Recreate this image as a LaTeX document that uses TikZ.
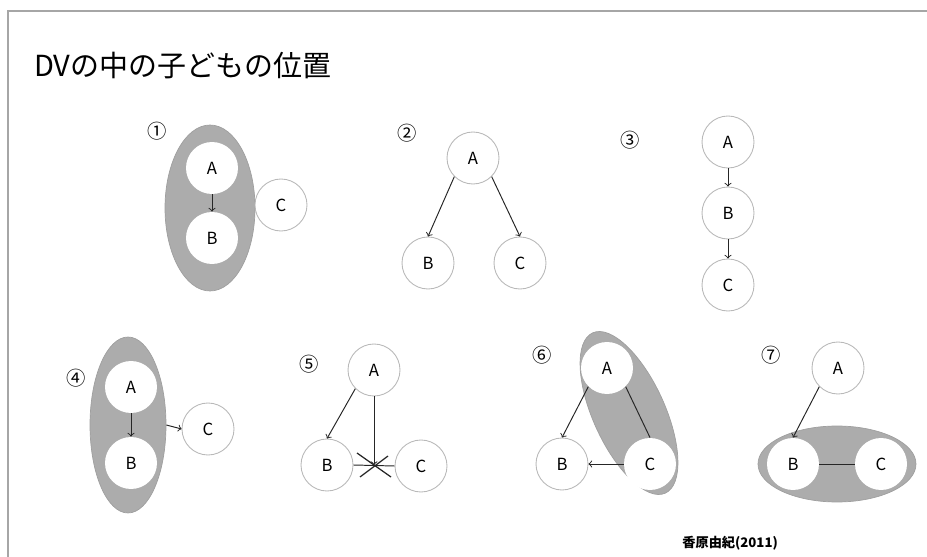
\documentclass[tikz,border=0pt]{standalone}
\usepackage{fontspec}
\setmainfont{Noto Sans CJK JP}
\usetikzlibrary{arrows,shapes.geometric}

\tikzset{
  pers/.style={circle,draw=gray!55,line width=0.5pt,fill=white,inner sep=0pt,
    minimum size=1.04cm,font=\fontsize{9.5}{10}\selectfont},
  inpers/.style={pers,draw=none},
  blob/.style={ellipse,fill=gray!65,draw=gray!75,line width=0.4pt,inner sep=0pt},
  numlab/.style={font=\fontsize{11}{11}\selectfont},
  link/.style={draw=black!85,line width=0.55pt},
  arr/.style={link,->,>=to}
}

\begin{document}
\begin{tikzpicture}[x=0.02cm,y=-0.02cm]
\useasboundingbox (0,0) rectangle (927,557);
\coordinate (fr1) at (8,557);
\coordinate (fr2) at (8,11);
\coordinate (fr3) at (927,11);
\draw[gray!70,line width=0.8pt] (fr1) -- (fr2) -- (fr3);
\node[anchor=west,font=\fontsize{16.5}{18}\selectfont] (title) at (28,66) {DVの中の子どもの位置};
\node[anchor=east,font=\fontsize{7.5}{9}\selectfont\bfseries] (auth) at (784,543) {香原由紀(2011)};

% 1
\node[numlab] (n1) at (157,131) {①};
\node[blob,minimum width=1.8cm,minimum height=3.32cm] (e1) at (210,208) {};
\node[inpers] (A1) at (212,168) {A};
\node[inpers] (B1) at (212,238) {B};
\node[pers] (C1) at (281,205) {C};
\draw[arr] (A1) -- (B1);

% 2
\node[numlab] (n2) at (407,133) {②};
\node[pers] (A2) at (473,158) {A};
\node[pers] (B2) at (428,263) {B};
\node[pers] (C2) at (520,263) {C};
\draw[arr] (A2.south west) -- (B2.north);
\draw[arr] (A2.south east) -- (C2.north);

% 3
\node[numlab] (n3) at (630,140) {③};
\node[pers] (A3) at (728,142) {A};
\node[pers] (B3) at (728,213) {B};
\node[pers] (C3) at (728,285) {C};
\draw[arr] (A3) -- (B3);
\draw[arr] (B3) -- (C3);

% 4
\node[numlab] (n4) at (76,378) {④};
\node[blob,minimum width=1.52cm,minimum height=3.52cm] (e4) at (128,425) {};
\node[inpers] (A4) at (131,387) {A};
\node[inpers] (B4) at (131,463) {B};
\node[pers] (C4) at (208,429) {C};
\draw[arr] (A4) -- (B4);
\draw[arr] (e4.east) -- (C4.west);

% 5
\node[numlab] (n5) at (309,364) {⑤};
\node[pers] (A5) at (374,370) {A};
\node[pers] (B5) at (327,465) {B};
\node[pers] (C5) at (421,466) {C};
\coordinate (x5) at (A5.south |- B5.east);
\draw[arr] (A5.south west) -- (B5.north);
\draw[link] (B5.east) -- (C5.west);
\draw[arr] (A5.south) -- (x5);
\draw[link,line width=0.7pt] (x5) ++(-17,-12) -- ++(34,24);
\draw[link,line width=0.7pt] (x5) ++(-14,12) -- ++(28,-21);

% 6
\node[numlab] (n6) at (542,355) {⑥};
\node[blob,rotate=-65.6,minimum width=3.52cm,minimum height=1.44cm] (e6) at (629,413) {};
\node[inpers] (A6) at (607,368) {A};
\node[pers] (B6) at (562,464) {B};
\node[inpers] (C6) at (650,464) {C};
\draw[link] (A6.-45) -- (C6.north);
\draw[arr] (A6.south west) -- (B6.north);
\draw[arr] (C6.west) -- (B6.east);

% 7
\node[numlab] (n7) at (771,355) {⑦};
\node[blob,minimum width=3.16cm,minimum height=1.52cm] (e7) at (837,464) {};
\node[pers] (A7) at (838,368) {A};
\node[inpers] (B7) at (793,464) {B};
\node[inpers] (C7) at (881,464) {C};
\draw[link] (B7.east) -- (C7.west);
\draw[arr] (A7.south west) -- (B7.north);
\end{tikzpicture}
\end{document}
